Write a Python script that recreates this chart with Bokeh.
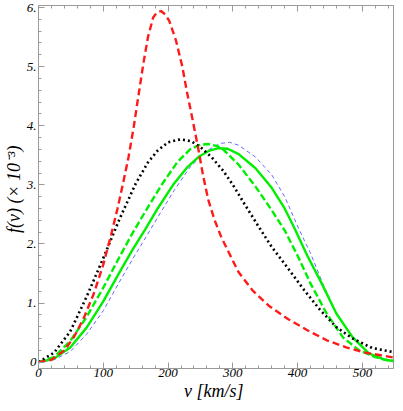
from bokeh.plotting import figure
from bokeh.models import LinearAxis, FixedTicker, Range1d, CustomJSTickFormatter
from bokeh.embed import file_html
from bokeh.resources import INLINE

# ---- data ----
red_v = [0, 20, 40, 55, 70, 85, 100, 112, 122, 131, 139, 147, 154, 162, 169, 177, 183, 189, 196, 202, 212, 222, 229, 239, 247, 254, 262, 272, 282, 294, 309, 330, 355, 385, 415, 445, 475, 505, 548]
red_f = [0.0, 0.04, 0.2, 0.43, 0.75, 1.15, 1.65, 2.15, 2.6, 3.05, 3.47, 3.98, 4.49, 5.06, 5.5, 5.83, 5.92, 5.94, 5.88, 5.77, 5.45, 5.0, 4.58, 4.04, 3.59, 3.16, 2.75, 2.40, 2.12, 1.85, 1.52, 1.22, 0.96, 0.73, 0.54, 0.37, 0.25, 0.16, 0.08]

blk_v = [0, 24, 49, 74, 100, 125, 150, 169, 184, 200, 219, 235, 250, 267, 285, 300, 320, 340, 360, 385, 410, 435, 460, 485, 515, 548]
blk_f = [0.0, 0.16, 0.52, 1.1, 1.76, 2.42, 3.02, 3.38, 3.58, 3.72, 3.77, 3.74, 3.64, 3.47, 3.24, 3.0, 2.64, 2.29, 1.95, 1.59, 1.22, 0.88, 0.59, 0.40, 0.24, 0.17]

gd_v = [0, 24, 49, 74, 100, 125, 145, 165, 190, 214, 234, 250, 262, 275, 285, 309, 335, 360, 380, 400, 420, 445, 470, 495, 520, 535, 548]
gd_f = [0.0, 0.085, 0.36, 0.76, 1.26, 1.78, 2.18, 2.55, 3.0, 3.38, 3.6, 3.68, 3.69, 3.66, 3.6, 3.34, 2.97, 2.57, 2.23, 1.80, 1.33, 0.82, 0.42, 0.20, 0.085, 0.04, 0.02]

gs_v = [0, 24, 49, 74, 100, 125, 145, 165, 184, 209, 230, 248, 264, 278, 292, 309, 335, 360, 380, 395, 415, 435, 460, 485, 510, 535, 548]
gs_f = [0.0, 0.06, 0.25, 0.58, 1.03, 1.52, 1.9, 2.25, 2.6, 3.02, 3.3, 3.48, 3.58, 3.62, 3.61, 3.52, 3.28, 2.95, 2.6, 2.27, 1.80, 1.38, 0.82, 0.42, 0.15, 0.04, 0.02]

bl_v = [0, 24, 49, 74, 100, 125, 145, 165, 184, 209, 234, 259, 280, 295, 309, 335, 360, 380, 402, 420, 440, 460, 485, 510, 535, 548]
bl_f = [0.0, 0.04, 0.18, 0.47, 0.87, 1.36, 1.74, 2.1, 2.45, 2.9, 3.3, 3.57, 3.7, 3.72, 3.67, 3.47, 3.17, 2.8, 2.25, 1.84, 1.3, 0.82, 0.42, 0.15, 0.04, 0.02]

x_major = [0, 100, 200, 300, 400, 500]
x_minor = list(range(0, 560, 20))
y_major = [0, 1, 2, 3, 4, 5, 6]
y_minor = [i / 5 for i in range(0, 31)]

FONT = "Liberation Serif"
AX = "#9a9a9a"

p = figure(width=395, height=403, output_backend="svg", toolbar_location=None,
           x_range=Range1d(0, 548), y_range=Range1d(-0.107, 6.034),
           min_border_left=29, min_border_right=2, min_border_top=5, min_border_bottom=0,
           x_axis_label="v  [km/s]", y_axis_label="f(v)  (× 10⁻³)")
p.grid.visible = False
p.outline_line_color = AX
p.background_fill_color = "white"
p.border_fill_color = "white"

def style(ax):
    ax.axis_line_color = AX
    ax.major_tick_line_color = AX
    ax.minor_tick_line_color = AX
    ax.major_tick_in = 6
    ax.major_tick_out = 0
    ax.minor_tick_in = 3
    ax.minor_tick_out = 0
    ax.major_label_text_font = FONT
    ax.major_label_text_font_style = "italic"
    ax.major_label_text_color = "black"
    ax.major_label_text_font_size = "13px"
    ax.major_label_text_line_height = 1.0

p.xaxis.ticker = FixedTicker(ticks=x_major, minor_ticks=x_minor)
p.yaxis.ticker = FixedTicker(ticks=y_major, minor_ticks=y_minor)
p.yaxis.formatter = CustomJSTickFormatter(code="return tick == 0 ? '0' : tick.toFixed(0) + '.';")
for ax in p.xaxis + p.yaxis:
    style(ax)
    ax.axis_label_text_font = FONT
    ax.axis_label_text_font_style = "italic"
    ax.axis_label_text_font_size = "18px"
    ax.axis_label_text_color = "black"
    ax.axis_label_text_line_height = 1.0
p.xaxis.major_label_standoff = 0
p.xaxis.axis_label_standoff = 1
p.yaxis.major_label_standoff = 2
p.yaxis.axis_label_standoff = 0

top = LinearAxis(ticker=FixedTicker(ticks=x_major, minor_ticks=x_minor))
style(top)
top.major_label_standoff = 0
top.formatter = CustomJSTickFormatter(code="return '';")
p.add_layout(top, "above")

p.line(bl_v, bl_f, line_color="#4d4dff", line_width=1, line_dash="4 3", line_alpha=0.85)
p.line(gs_v, gs_f, line_color="#00ee00", line_width=2.4)
p.line(gd_v, gd_f, line_color="#00ee00", line_width=2.4, line_dash="7 3")
p.line(blk_v, blk_f, line_color="black", line_width=2.6, line_dash="2 3")
p.line(red_v, red_f, line_color="#ff1a1a", line_width=2.4, line_dash="7 4")

open("out.html", "w").write(file_html(p, INLINE))
